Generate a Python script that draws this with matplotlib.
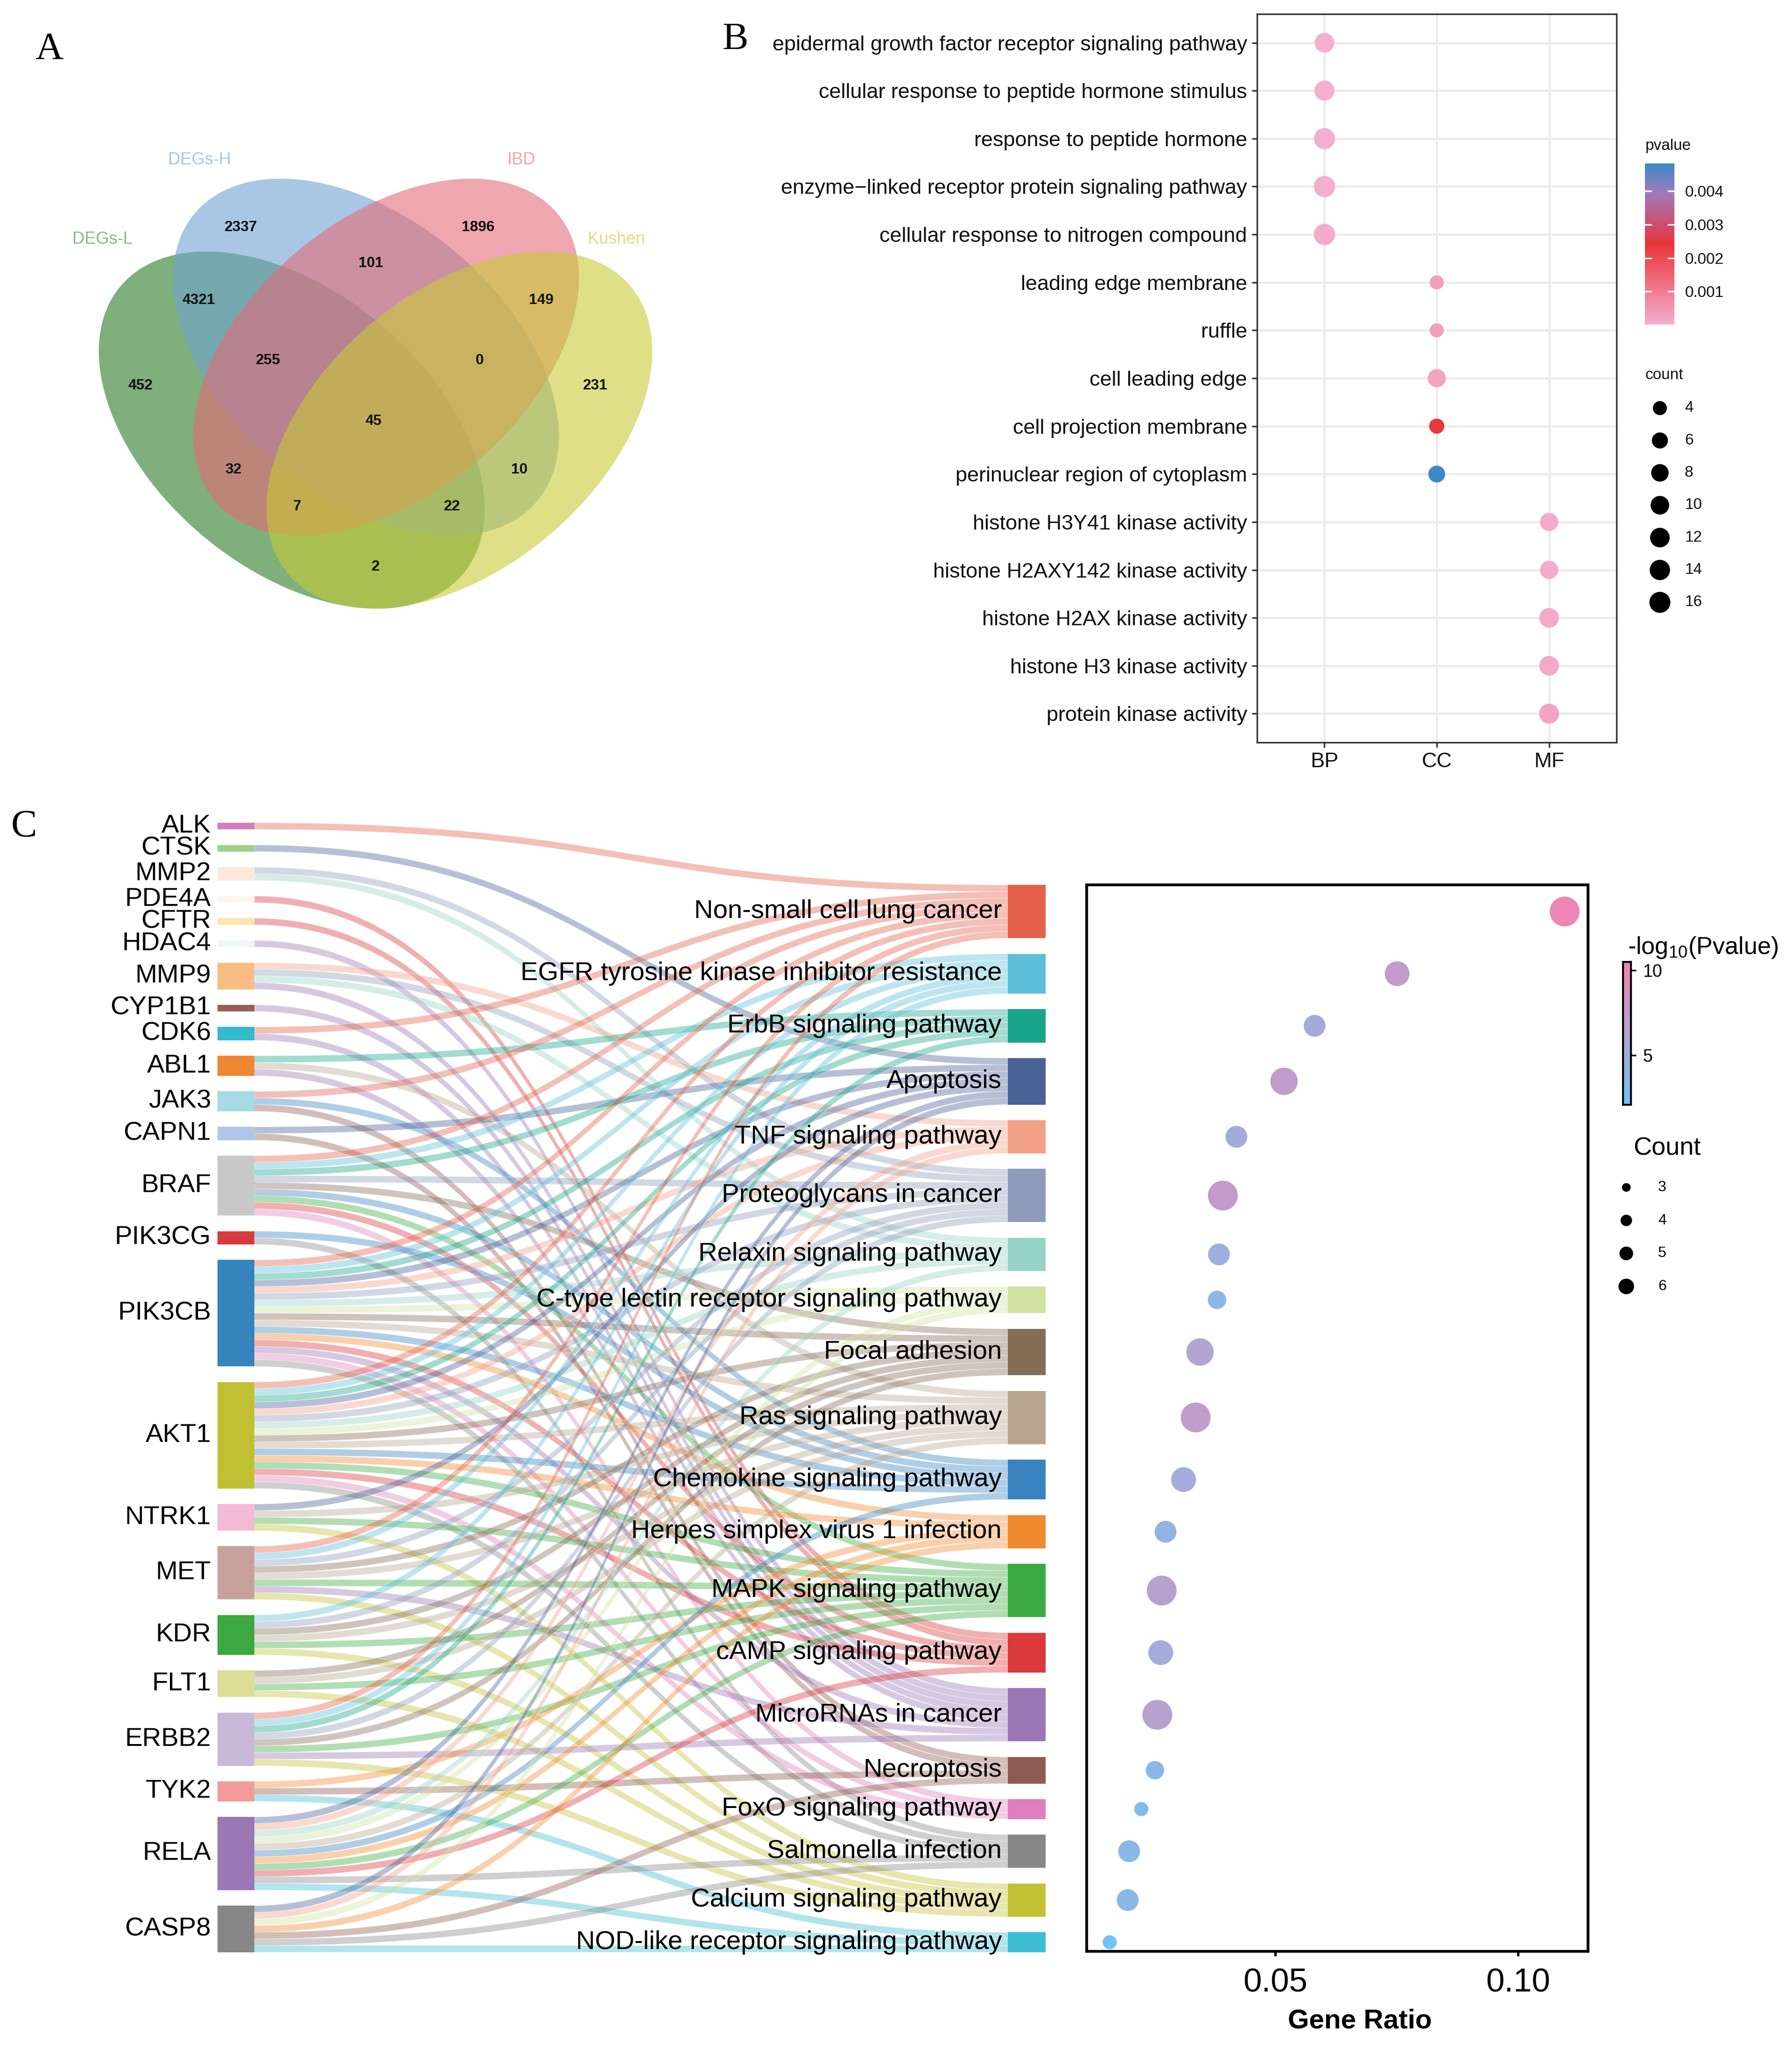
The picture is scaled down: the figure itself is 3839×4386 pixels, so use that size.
import numpy as np
import matplotlib
matplotlib.use("Agg")
import matplotlib.pyplot as plt
from matplotlib.patches import Ellipse, Rectangle, PathPatch
from matplotlib.path import Path
from matplotlib.colors import LinearSegmentedColormap, Normalize, to_rgba

plt.rcParams['font.family'] = ['Liberation Sans', 'DejaVu Sans']
plt.rcParams['mathtext.fontset'] = 'custom'
plt.rcParams['mathtext.rm'] = 'Liberation Sans'
plt.rcParams['mathtext.it'] = 'Liberation Sans:italic'
plt.rcParams['mathtext.bf'] = 'Liberation Sans:bold'

W, H, DPI = 3839, 4386, 300
PT = 72.0 / DPI  # points per pixel

# ======================= DATA =======================
# ---- Panel A: Venn ----
venn_sets = ["DEGs-L", "DEGs-H", "IBD", "Kushen"]
venn_set_colors = ["#287A25", "#70A3D2", "#E46C78", "#C8CA37"]
venn_label_colors = ["#86B984", "#A6C6E2", "#EFA3AB", "#DEDC8C"]
venn_regions = ["L", "H", "I", "K", "LH", "HI", "IK", "LHI", "HIK",
                "LHIK", "LI", "HK", "LIK", "LHK", "LK"]
venn_region_counts = [452, 2337, 1896, 231, 4321, 101, 149, 255, 0,
                      45, 32, 10, 7, 22, 2]

# ---- Panel B: GO dot plot ----
go_terms = [
    "epidermal growth factor receptor signaling pathway",
    "cellular response to peptide hormone stimulus",
    "response to peptide hormone",
    "enzyme\u2212linked receptor protein signaling pathway",
    "cellular response to nitrogen compound",
    "leading edge membrane",
    "ruffle",
    "cell leading edge",
    "cell projection membrane",
    "perinuclear region of cytoplasm",
    "histone H3Y41 kinase activity",
    "histone H2AXY142 kinase activity",
    "histone H2AX kinase activity",
    "histone H3 kinase activity",
    "protein kinase activity",
]
go_ontology = ["BP"] * 5 + ["CC"] * 5 + ["MF"] * 5
go_categories = ["BP", "CC", "MF"]
go_pvalue = [1.2e-5, 2.0e-5, 3.1e-5, 4.5e-5, 8.0e-5,
             3.4e-4, 3.4e-4, 2.4e-4, 2.5e-3, 4.83e-3,
             1.1e-4, 1.1e-4, 1.3e-4, 1.5e-4, 2.2e-4]
go_count = [12, 13, 16, 17, 17,
            4, 4, 9, 5, 7,
            9, 9, 12, 12, 13]
go_pvalue_ticks = [0.001, 0.002, 0.003, 0.004]
go_count_breaks = [4, 6, 8, 10, 12, 14, 16]

# ---- Panel C: Sankey + KEGG dot plot ----
genes = ["ALK", "CTSK", "MMP2", "PDE4A", "CFTR", "HDAC4", "MMP9", "CYP1B1",
         "CDK6", "ABL1", "JAK3", "CAPN1", "BRAF", "PIK3CG", "PIK3CB", "AKT1",
         "NTRK1", "MET", "KDR", "FLT1", "ERBB2", "TYK2", "RELA", "CASP8"]
gene_colors = ["#D77DB9", "#9FD08C", "#FBEADA", "#FDF6EF", "#FDE6AF", "#EEF7F9",
               "#F8BD83", "#975F57", "#35B9CD", "#EE8833", "#A6DAE4", "#B1C6E7",
               "#C8C8C8", "#D73B3C", "#3783BC", "#C0C033", "#F3BBD3", "#C7A29C",
               "#3CA83F", "#DCDD96", "#C9B8D8", "#F29B99", "#9A78B3", "#878787"]
pathways = ["Non-small cell lung cancer", "EGFR tyrosine kinase inhibitor resistance",
            "ErbB signaling pathway", "Apoptosis", "TNF signaling pathway",
            "Proteoglycans in cancer", "Relaxin signaling pathway",
            "C-type lectin receptor signaling pathway", "Focal adhesion",
            "Ras signaling pathway", "Chemokine signaling pathway",
            "Herpes simplex virus 1 infection", "MAPK signaling pathway",
            "cAMP signaling pathway", "MicroRNAs in cancer", "Necroptosis",
            "FoxO signaling pathway", "Salmonella infection",
            "Calcium signaling pathway", "NOD-like receptor signaling pathway"]
pathway_keys = ["NSCLC", "EGFR", "ErbB", "Apop", "TNF", "PG", "Relaxin", "CLR", "FA",
                "Ras", "Chemo", "HSV1", "MAPK", "cAMP", "miRNA", "Necro", "FoxO",
                "Salm", "Ca", "NOD"]
pathway_colors = ["#E5604A", "#5CBFD7", "#18A68A", "#4A6196", "#F2A088", "#8E9BBB",
                  "#97D3C5", "#CFE2A2", "#866D58", "#B8A690", "#3984C0", "#F18A2F",
                  "#3CAA43", "#DB393B", "#9B76B5", "#8F5A51", "#DD80BB", "#878787",
                  "#C1C133", "#3DBDD3"]
gene_links = {
    "ALK": ["NSCLC"],
    "CTSK": ["Apop"],
    "MMP2": ["PG", "Relaxin"],
    "PDE4A": ["cAMP"],
    "CFTR": ["cAMP"],
    "HDAC4": ["miRNA"],
    "MMP9": ["TNF", "PG", "Relaxin", "miRNA"],
    "CYP1B1": ["miRNA"],
    "CDK6": ["NSCLC", "miRNA"],
    "ABL1": ["ErbB", "Ras", "miRNA"],
    "JAK3": ["NSCLC", "Chemo", "Necro"],
    "CAPN1": ["Apop", "Necro"],
    "BRAF": ["NSCLC", "EGFR", "ErbB", "PG", "FA", "Chemo", "MAPK", "cAMP", "FoxO"],
    "PIK3CG": ["Chemo", "Salm"],
    "PIK3CB": ["NSCLC", "EGFR", "ErbB", "Apop", "TNF", "PG", "Relaxin", "CLR", "FA",
               "Ras", "Chemo", "HSV1", "cAMP", "miRNA", "FoxO", "Salm"],
    "AKT1": ["NSCLC", "EGFR", "ErbB", "Apop", "TNF", "PG", "Relaxin", "CLR", "FA",
             "Ras", "Chemo", "HSV1", "MAPK", "cAMP", "FoxO", "Salm"],
    "NTRK1": ["Apop", "Ras", "MAPK", "Ca"],
    "MET": ["NSCLC", "EGFR", "PG", "FA", "Ras", "MAPK", "miRNA", "Ca"],
    "KDR": ["EGFR", "PG", "FA", "Ras", "MAPK", "Ca"],
    "FLT1": ["FA", "Ras", "MAPK", "Ca"],
    "ERBB2": ["NSCLC", "EGFR", "ErbB", "PG", "FA", "MAPK", "miRNA", "Ca"],
    "TYK2": ["HSV1", "Necro", "NOD"],
    "RELA": ["Apop", "TNF", "Relaxin", "CLR", "Ras", "Chemo", "HSV1", "MAPK", "cAMP",
             "Salm", "NOD"],
    "CASP8": ["Apop", "TNF", "CLR", "HSV1", "Necro", "Salm", "NOD"],
}
kegg_gene_ratio = [0.1096, 0.0751, 0.0581, 0.0518, 0.0420, 0.0392, 0.0384, 0.0380,
                   0.0345, 0.0336, 0.0311, 0.0274, 0.0266, 0.0264, 0.0257, 0.0252,
                   0.0224, 0.0199, 0.0196, 0.0159]
kegg_neglog10p = [10.3, 7.4, 5.6, 7.3, 5.3, 7.4, 5.0, 3.8, 6.4, 7.3,
                  5.4, 4.4, 6.7, 5.4, 6.7, 3.8, 3.0, 3.9, 3.9, 2.3]
kegg_count_breaks = [3, 4, 5, 6]
kegg_xticks = [0.05, 0.10]

# ======================= FIGURE =======================
fig = plt.figure(figsize=(W / DPI, H / DPI), dpi=DPI)


def fbox(x0, y0, x1, y1):
    return [x0 / W, 1 - y1 / H, (x1 - x0) / W, (y1 - y0) / H]


base = fig.add_axes([0, 0, 1, 1])
base.set_xlim(0, W)
base.set_ylim(H, 0)
base.axis("off")

serif = ["Liberation Serif", "DejaVu Serif"]
base.text(105, 106, "A", fontsize=20, family=serif, ha="center", va="center")
base.text(1575, 85, "B", fontsize=20, family=serif, ha="center", va="center")
base.text(51, 1771, "C", fontsize=20, family=serif, ha="center", va="center")

# ---------------- Panel A: Venn ----------------
ell_center = {"L": (625, 921), "H": (784, 765), "I": (827, 765), "K": (984, 921)}
ell_angle = {"L": 40, "H": 40, "I": -40, "K": -40}
ell_a, ell_b = 479, 296
for key, col in zip("LHIK", venn_set_colors):
    base.add_patch(Ellipse(ell_center[key], 2 * ell_a, 2 * ell_b, angle=ell_angle[key],
                           facecolor=col, edgecolor="none", alpha=0.6, zorder=1))
set_label_pos = [(219, 512), (427, 342), (1117, 342), (1320, 512)]
for name, col, (x, y) in zip(venn_sets, venn_label_colors, set_label_pos):
    base.text(x, y, name, color=col, fontsize=8.7, ha="center", va="center")
region_label_pos = {"L": (301, 826), "H": (516, 487), "I": (1024, 487), "K": (1275, 826),
                    "LH": (426, 643), "HI": (794, 564), "IK": (1159, 643),
                    "LHI": (574, 772), "HIK": (1027, 772), "LHIK": (800, 902),
                    "LI": (500, 1006), "HK": (1113, 1006), "LIK": (636, 1085),
                    "LHK": (969, 1085), "LK": (805, 1214)}
for reg, cnt in zip(venn_regions, venn_region_counts):
    x, y = region_label_pos[reg]
    base.text(x, y, str(cnt), fontsize=7.6, fontweight="bold", ha="center",
              va="center", color="#111111", zorder=3)

# ---------------- Panel B: GO dot plot ----------------
cmapB = LinearSegmentedColormap.from_list(
    "go", [(0, "#F4AFCF"), (0.5, "#E8353A"), (0.82, "#A07BBD"), (1, "#3C89CA")])
normB = Normalize(vmin=min(go_pvalue), vmax=max(go_pvalue))


def go_size(c):
    d = 30 + 10.82 * np.log(np.asarray(c, float) / 4.0)
    return (d * PT) ** 2


axB = fig.add_axes(fbox(2693, 30, 3463, 1590))
bx = [go_categories.index(o) + 1 for o in go_ontology]
by = np.arange(1, len(go_terms) + 1)
axB.scatter(bx, by, s=go_size(go_count), c=go_pvalue, cmap=cmapB, norm=normB,
            edgecolors="none", zorder=3)
axB.set_xlim(0.4, 3.6)
axB.set_ylim(len(go_terms) + 0.6, 0.4)
axB.set_xticks([1, 2, 3])
axB.set_xticklabels(go_categories)
axB.set_yticks(by)
axB.set_yticklabels(go_terms)
axB.set_axisbelow(True)
axB.grid(True, color="#EBEBEB", lw=1.1)
for sp in axB.spines.values():
    sp.set_color("#333333")
    sp.set_linewidth(0.8)
axB.tick_params(axis="both", labelsize=10.8, length=2.6, width=0.8, color="#333333",
                pad=2.5, labelcolor="#111111")

# B legend: pvalue colorbar
base.text(3525, 313, "pvalue", fontsize=8, ha="left", va="center", color="#111111")
caxB = fig.add_axes(fbox(3524, 350, 3587, 695))
grad = np.linspace(normB.vmin, normB.vmax, 256).reshape(-1, 1)
caxB.imshow(grad, cmap=cmapB, norm=normB, aspect="auto", origin="lower",
            extent=[0, 1, normB.vmin, normB.vmax])
caxB.set_xlim(0, 1)
caxB.set_ylim(normB.vmin, normB.vmax)
for t in go_pvalue_ticks:
    caxB.plot([0, 0.2], [t, t], color="white", lw=0.8)
    caxB.plot([0.8, 1], [t, t], color="white", lw=0.8)
caxB.set_xticks([])
caxB.yaxis.tick_right()
caxB.set_yticks(go_pvalue_ticks)
caxB.set_yticklabels([f"{t:.3f}" for t in go_pvalue_ticks])
caxB.tick_params(axis="y", length=0, pad=5.5, labelsize=8, labelcolor="#111111")
for sp in caxB.spines.values():
    sp.set_visible(False)

# B legend: count
base.text(3525, 804, "count", fontsize=8, ha="left", va="center", color="#111111")
legB_y = np.linspace(874, 1290, len(go_count_breaks))
base.scatter([3556] * len(go_count_breaks), legB_y, s=go_size(go_count_breaks),
             color="black", edgecolors="none")
for yy, c in zip(legB_y, go_count_breaks):
    base.text(3609, yy, str(c), fontsize=8, ha="left", va="center", color="#111111")

# ---------------- Panel C: Sankey ----------------
U = 14.25          # pixel height of one link
GAP = 33.3         # gap between nodes
LX0, LX1 = 466, 545
RX0, RX1 = 2159, 2240
TOP_L = 1762

gene_n = [len(gene_links[g]) for g in genes]
path_n = [sum(k in gene_links[g] for g in genes) for k in pathway_keys]

gene_top = []
cur = TOP_L
for n in gene_n:
    gene_top.append(cur)
    cur += n * U + GAP
bottom = cur - GAP
right_total = sum(path_n) * U + (len(pathway_keys) - 1) * GAP
path_top = []
cur = bottom - right_total
for n in path_n:
    path_top.append(cur)
    cur += n * U + GAP
path_center = [t + n * U / 2 for t, n in zip(path_top, path_n)]

# link lists
links = []
for gi, g in enumerate(genes):
    for k in gene_links[g]:
        links.append((gi, pathway_keys.index(k)))
src_off = {}
for gi in range(len(genes)):
    outs = sorted([l for l in links if l[0] == gi], key=lambda l: l[1])
    for r, l in enumerate(outs):
        src_off[l] = r
tgt_off = {}
for pj in range(len(pathway_keys)):
    ins = sorted([l for l in links if l[1] == pj], key=lambda l: l[0])
    for r, l in enumerate(ins):
        tgt_off[l] = r

xm = (LX1 + RX0) / 2
for l in links:
    gi, pj = l
    ys0 = gene_top[gi] + src_off[l] * U
    ys1 = ys0 + U
    yt0 = path_top[pj] + tgt_off[l] * U
    yt1 = yt0 + U
    verts = [(LX1, ys0), (xm, ys0), (xm, yt0), (RX0, yt0),
             (RX0, yt1), (xm, yt1), (xm, ys1), (LX1, ys1), (LX1, ys0)]
    codes = [Path.MOVETO, Path.CURVE4, Path.CURVE4, Path.CURVE4,
             Path.LINETO, Path.CURVE4, Path.CURVE4, Path.CURVE4, Path.CLOSEPOLY]
    base.add_patch(PathPatch(Path(verts, codes), facecolor=to_rgba(pathway_colors[pj], 0.4),
                             edgecolor=(1, 1, 1, 0.35), lw=0.3, zorder=2))

for gi, g in enumerate(genes):
    h = gene_n[gi] * U
    base.add_patch(Rectangle((LX0, gene_top[gi]), LX1 - LX0, h,
                             facecolor=gene_colors[gi], edgecolor="none", zorder=3))
    base.text(452, gene_top[gi] + h / 2, g, fontsize=13.5, ha="right", va="center",
              zorder=4)
for pj, p in enumerate(pathways):
    h = path_n[pj] * U
    base.add_patch(Rectangle((RX0, path_top[pj]), RX1 - RX0, h,
                             facecolor=pathway_colors[pj], edgecolor="none", zorder=3))
    base.text(2146, path_top[pj] + h / 2, p, fontsize=13.5, ha="right", va="center",
              zorder=4)

# ---------------- Panel C: KEGG dot plot ----------------
cmapD = LinearSegmentedColormap.from_list(
    "kegg", [(0, "#6EC4F4"), (0.45, "#ABA8D6"), (1, "#F084B0")])
normD = Normalize(vmin=2.08, vmax=10.5)


def kegg_size(c):
    c = np.asarray(c, float)
    d = np.sqrt(639 * c - 1017)
    return (d * PT) ** 2


def kegg_leg_size(c):
    c = np.asarray(c, float)
    d = np.sqrt(255 * c - 420)
    return (d * PT) ** 2


DY0, DY1 = 1895, 4179
axD = fig.add_axes(fbox(2328, DY0, 3402, DY1))
axD.scatter(kegg_gene_ratio, path_center, s=kegg_size(path_n), c=kegg_neglog10p,
            cmap=cmapD, norm=normD, edgecolors="none", zorder=3)
axD.set_xlim(0.01115, 0.11442)
axD.set_ylim(DY1, DY0)
axD.set_yticks([])
axD.set_xticks(kegg_xticks)
axD.set_xticklabels([f"{t:.2f}" for t in kegg_xticks])
axD.tick_params(axis="x", labelsize=17, length=2.5, width=1.2, pad=6, color="black")
for sp in axD.spines.values():
    sp.set_color("black")
    sp.set_linewidth(1.4)
base.text(2913, 4329, "Gene Ratio", fontsize=14, fontweight="bold", ha="center",
          va="center")

# D legend
base.text(3487, 2029, r"-log$_{10}$(Pvalue)", fontsize=12.5, ha="left", va="center")
caxD = fig.add_axes(fbox(3477, 2060, 3494, 2366))
gradD = np.linspace(normD.vmin, normD.vmax, 256).reshape(-1, 1)
caxD.imshow(gradD, cmap=cmapD, norm=normD, aspect="auto", origin="lower",
            extent=[0, 1, normD.vmin, normD.vmax])
caxD.set_xlim(0, 1)
caxD.set_ylim(normD.vmin, normD.vmax)
caxD.set_xticks([])
caxD.yaxis.tick_right()
caxD.set_yticks([5, 10])
caxD.tick_params(axis="y", length=2.6, width=0.8, pad=3.5, labelsize=9)
for sp in caxD.spines.values():
    sp.set_linewidth(1.0)

base.text(3499, 2460, "Count", fontsize=13, ha="left", va="center")
legD_y = np.linspace(2543, 2755, len(kegg_count_breaks))
base.scatter([3484] * len(kegg_count_breaks), legD_y, s=kegg_leg_size(kegg_count_breaks),
             color="black", edgecolors="none")
for yy, c in zip(legD_y, kegg_count_breaks):
    base.text(3552, yy, str(c), fontsize=7.7, ha="left", va="center")

fig.savefig("out.png", dpi=DPI)
